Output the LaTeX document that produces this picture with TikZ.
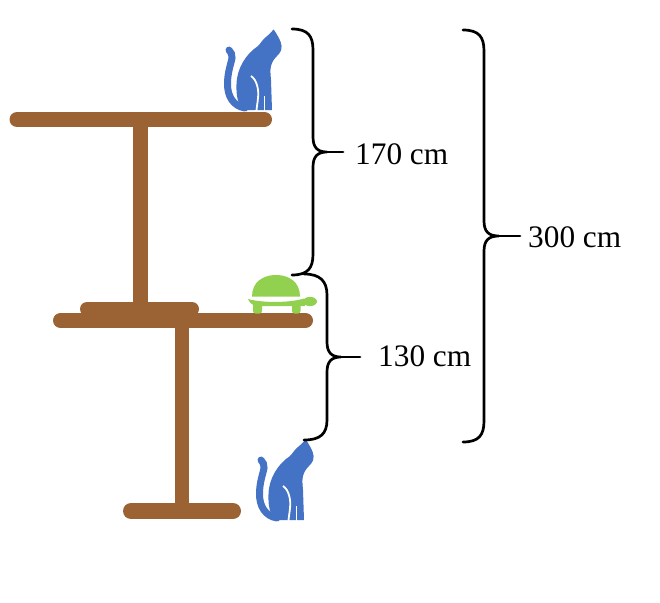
\documentclass[tikz,border=0pt]{standalone}
\usepackage{fontspec}
\setmainfont{Liberation Serif}
\definecolor{wood}{RGB}{155,98,52}
\definecolor{catblue}{RGB}{68,114,196}
\definecolor{turtlegreen}{RGB}{146,208,80}
\tikzset{
  plank/.style={draw=wood, line width=15pt, line cap=round},
  post/.style={draw=wood, line width=15pt, line cap=butt},
  brace/.style={draw=black, line width=2.7pt, line cap=round},
  lbl/.style={anchor=base west, inner sep=0pt, font=\fontsize{31.3}{36}\selectfont},
  catpic/.pic={
    \fill[catblue] (272,110) -- (271,80)
      .. controls (270.5,74) and (270,70) .. (271,66)
      .. controls (272,62) and (274,59) .. (277,56)
      .. controls (280,53) and (282,50) .. (281.5,46)
      .. controls (281,41) and (278,36) .. (274,30)
      -- (266,37)
      .. controls (263,39) and (261,43) .. (258,46)
      .. controls (246,54) and (237,68) .. (236.5,84)
      .. controls (236,96) and (238,105) .. (243.5,110)
      -- cycle;
    \fill[catblue] (271.5,46) circle[radius=9.8];
    \fill[catblue] (264.5,40) -- (273.5,29.5) -- (279.5,40) -- cycle;
    \draw[catblue, line width=7pt, line cap=round]
      (245,108) .. controls (233,106) and (227.5,96) .. (227.5,84)
      .. controls (227.5,72) and (231,64) .. (232,58)
      .. controls (232.5,55) and (231,52) .. (229,50);
    \draw[white, line width=1.8pt] (251,76) .. controls (257,80) and (259,90) .. (258,98)
      .. controls (257.5,104) and (256.5,108) .. (256.5,111);
    \draw[white, line width=1.3pt] (264.5,96) -- (264.5,111);
  }
}
\begin{document}
\begin{tikzpicture}[x=1pt, y=-1pt]
\path[use as bounding box] (0,0) rectangle (660,602);

% posts
\draw[post] (140.5,122) -- (140.5,306);
\draw[post, line width=14pt] (181.5,322) -- (181.5,511);
% planks
\draw[plank] (17,119.5) -- (264.5,119.5);
\draw[plank, line width=14pt] (87,309) -- (192,309);
\draw[plank] (60.5,320.5) -- (305.5,320.5);
\draw[plank, line width=16pt] (131,511) -- (233,511);

% cats
\pic at (0,0) {catpic};
\pic at (32,410) {catpic};

% turtle
\fill[turtlegreen] (252,296.5) .. controls (252,282) and (263,275) .. (276,275)
  .. controls (289,275) and (300,282) .. (300,296.5) -- cycle;
\fill[turtlegreen] (248,299) .. controls (262,303) and (290,303) .. (304,298.5)
  -- (305,306) -- (256,306) .. controls (252,305) and (249,302) .. (248,299) -- cycle;
\fill[turtlegreen] (310,301.5) ellipse[x radius=7, y radius=4.6];
\fill[turtlegreen, rounded corners=2.5pt] (253,303) rectangle (262,313.5);
\fill[turtlegreen, rounded corners=2.5pt] (292,303) rectangle (300.5,313.5);

% braces
\draw[brace] (292,29) .. controls (308,29) and (313,36) .. (313,50) -- (313,137)
  .. controls (313,148) and (318,152) .. (327,152)
  .. controls (318,152) and (313,156) .. (313,167) -- (313,254)
  .. controls (313,268) and (308,275) .. (292,275);
\draw[brace] (327,152) -- (343,152);

\draw[brace] (304,274) .. controls (320,274) and (327,281) .. (327,295) -- (327,342)
  .. controls (327,353) and (332,357) .. (341,357)
  .. controls (332,357) and (327,361) .. (327,372) -- (327,420)
  .. controls (327,434) and (320,440) .. (304,440);
\draw[brace] (341,357) -- (360,357);

\draw[brace] (463,30) .. controls (479,30) and (484,37) .. (484,51) -- (484,221)
  .. controls (484,232) and (489,236) .. (499,236)
  .. controls (489,236) and (484,240) .. (484,251) -- (484,421)
  .. controls (484,435) and (479,442) .. (463,442);
\draw[brace] (499,236) -- (520,236);

% labels
\node[lbl] (l170) at (355,164) {170 cm};
\node[lbl] (l130) at (378,366) {130 cm};
\node[lbl] (l300) at (528,247) {300 cm};
\end{tikzpicture}
\end{document}
